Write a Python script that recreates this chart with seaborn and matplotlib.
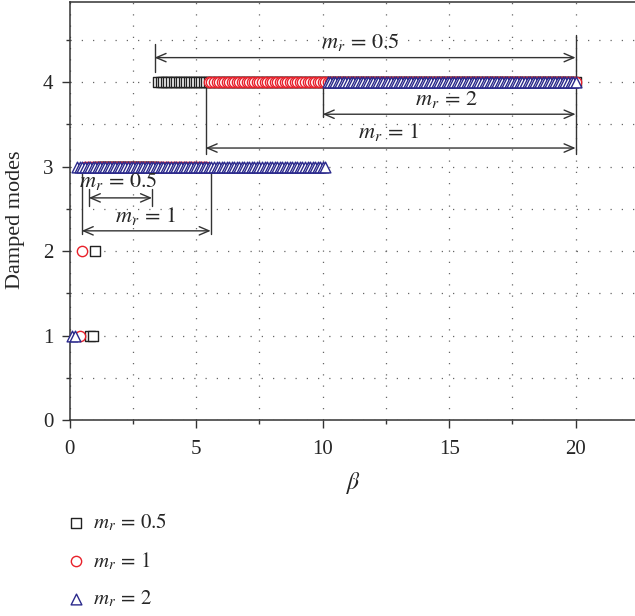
import numpy as np
import seaborn as sns
import matplotlib.pyplot as plt
from matplotlib.ticker import MultipleLocator

# beta sweep used in the study (step 0.1)
beta = np.round(np.arange(0.1, 20.05, 0.1), 1)

# number of damped modes: (mode, beta_from, beta_to)
mr_labels = [r"$m_r\,=\,0.5$", r"$m_r\,=\,1$", r"$m_r\,=\,2$"]
modes_mr05 = [(1, 0.8, 0.9), (2, 1.0, 1.0), (3, 1.1, 3.4), (4, 3.5, 20.0)]
modes_mr1 = [(1, 0.4, 0.4), (2, 0.5, 0.5), (3, 0.6, 5.4), (4, 5.5, 20.0)]
modes_mr2 = [(1, 0.1, 0.2), (3, 0.3, 10.1), (4, 10.2, 20.0)]

colors = ["#222222", "#e8202a", "#2b2a8c"]
markers = ["s", "o", "^"]
sizes = [42, 55, 60]

# range annotations: label, y of arrow, start, end, text x, text y
spans_top = [(mr_labels[0], 4.29, 3.35, 20.0, 11.5, 4.47),
             (mr_labels[2], 3.62, 10.0, 20.0, 14.9, 3.79),
             (mr_labels[1], 3.22, 5.37, 20.0, 12.6, 3.41)]


def expand(ranges):
    xs, ys = [], []
    for mode, b0, b1 in ranges:
        sel = beta[(beta >= b0 - 1e-9) & (beta <= b1 + 1e-9)]
        xs.extend(sel)
        ys.extend([mode] * len(sel))
    return np.array(xs), np.array(ys)


def arrow(ax, x0, x1, y):
    ax.annotate("", xy=(x1, y), xytext=(x0, y),
                arrowprops=dict(arrowstyle="<->,head_length=0.7,head_width=0.3",
                                color="#333333", lw=1, shrinkA=0, shrinkB=0))


def vline(ax, x, y0, y1):
    ax.plot([x, x], [y0, y1], color="#333333", lw=1)


def main():
    sns.set_style("ticks")
    plt.rcParams['font.family'] = ['Liberation Serif', 'DejaVu Serif']
    plt.rcParams['mathtext.fontset'] = 'stix'

    fig = plt.figure(figsize=(6.35, 6.16), dpi=100)
    ax = fig.add_axes([0.110, 0.318, 0.892, 0.679])

    for ranges, lab, c, m, s in zip([modes_mr05, modes_mr1, modes_mr2],
                                    mr_labels, colors, markers, sizes):
        x, y = expand(ranges)
        sns.scatterplot(x=x, y=y, ax=ax, marker=m, s=s, facecolor="white",
                        edgecolor=c, linewidth=1.0, label=lab, zorder=3,
                        clip_on=False)

    handles, labels = ax.get_legend_handles_labels()
    if ax.get_legend() is not None:
        ax.get_legend().remove()

    for lab, y, x0, x1, tx, ty in spans_top:
        arrow(ax, x0, x1, y)
        ax.text(tx, ty, lab, ha="center", va="center", fontsize=16)
    vline(ax, 3.35, 4.12, 4.45)
    vline(ax, 20.0, 3.15, 4.56)
    vline(ax, 10.0, 3.59, 3.94)
    vline(ax, 5.37, 3.15, 3.94)

    # lower brackets
    arrow(ax, 0.75, 3.25, 2.63)
    vline(ax, 0.75, 2.53, 2.73)
    vline(ax, 3.25, 2.53, 2.73)
    ax.text(1.9, 2.83, mr_labels[0], ha="center", va="center", fontsize=16)
    arrow(ax, 0.47, 5.57, 2.24)
    vline(ax, 0.47, 2.2, 2.94)
    vline(ax, 5.57, 2.2, 2.94)
    ax.text(3.0, 2.42, mr_labels[1], ha="center", va="center", fontsize=16)

    ax.set_xlim(0, 22.4)
    ax.set_ylim(0, 4.95)
    ax.xaxis.set_major_locator(MultipleLocator(5))
    ax.xaxis.set_minor_locator(MultipleLocator(2.5))
    ax.yaxis.set_major_locator(MultipleLocator(1))
    ax.yaxis.set_minor_locator(MultipleLocator(0.5))
    ax.grid(which="both", linestyle=(0, (1, 8)), color="#666666", lw=0.9)
    ax.tick_params(which="major", direction="out", length=6, width=1,
                   labelsize=15, color="#333333")
    ax.tick_params(axis="x", which="major", pad=8)
    ax.tick_params(axis="y", which="major", pad=6)
    ax.tick_params(which="minor", direction="out", length=3, width=1,
                   color="#333333")
    for sp in ax.spines.values():
        sp.set_color("#333333")
        sp.set_linewidth(1.1)

    ax.set_xlabel(r"$\beta$", fontsize=17, labelpad=8)
    ax.set_ylabel("Damped modes", fontsize=16)
    ax.yaxis.set_label_coords(-0.08, 0.48)

    fig.legend(handles, labels, loc="upper left", bbox_to_anchor=(0.104, 0.169),
               frameon=False, fontsize=15, handlelength=1.0,
               handletextpad=0.3, labelspacing=0.8, borderpad=0,
               borderaxespad=0)

    plt.savefig("out.png", dpi=100)
    plt.close()


if __name__ == "__main__":
    main()
